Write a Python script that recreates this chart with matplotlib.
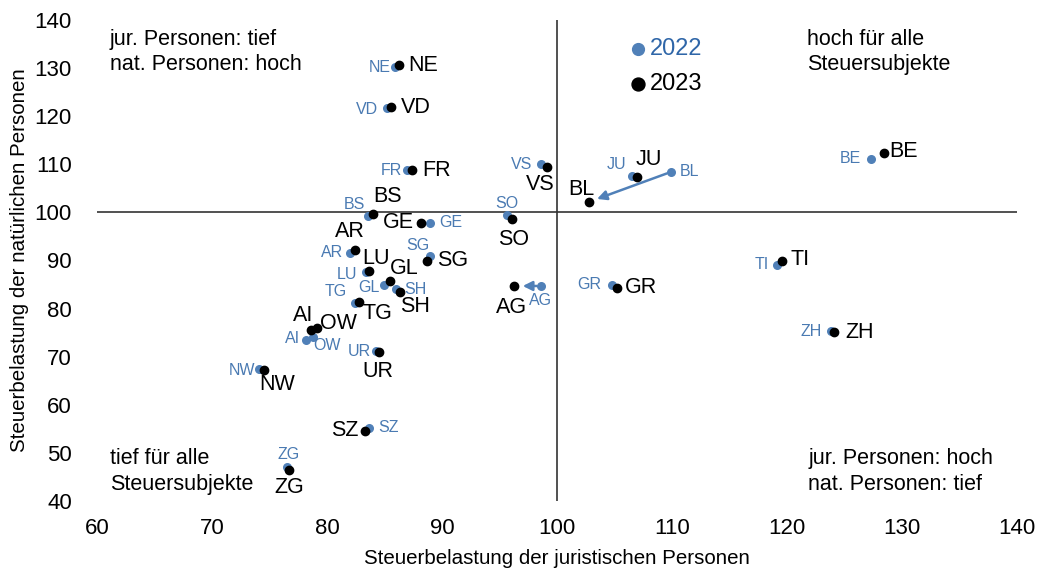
import numpy as np
import matplotlib
matplotlib.use("Agg")
import matplotlib.pyplot as plt

plt.rcParams['font.family'] = ['Liberation Sans', 'DejaVu Sans']

# =====================
# DATA
# =====================
kantone = ["NE", "VD", "FR", "BS", "GE", "AR", "LU", "SG", "GL", "SH", "TG",
           "AI", "OW", "UR", "NW", "SZ", "ZG", "VS", "JU", "BL", "SO", "AG",
           "GR", "BE", "TI", "ZH"]

x_2022 = [85.9, 85.2, 87.0, 83.6, 89.0, 82.0, 83.4, 89.0, 85.0, 86.0, 82.4,
          78.2, 78.8, 84.3, 74.1, 83.65, 76.5, 98.6, 106.5, 109.9, 95.65, 98.6,
          104.8, 127.3, 119.1, 123.8]
y_2022 = [130.2, 121.7, 108.8, 99.2, 97.8, 91.6, 87.6, 90.9, 84.9, 84.1, 81.2,
          73.5, 74.1, 71.2, 67.4, 55.2, 47.1, 110.1, 107.6, 108.4, 99.5, 84.7,
          84.9, 111.1, 89.1, 75.3]

x_2023 = [86.26, 85.6, 87.4, 84.0, 88.2, 82.4, 83.65, 88.7, 85.5, 86.35, 82.8,
          78.6, 79.1, 84.5, 74.5, 83.3, 76.7, 99.1, 106.96, 102.8, 96.1, 96.3,
          105.2, 128.4, 119.6, 124.1]
y_2023 = [130.6, 121.9, 108.8, 99.7, 97.8, 92.2, 87.8, 89.9, 85.7, 83.5, 81.4,
          75.6, 76.0, 71.0, 67.2, 54.6, 46.4, 109.4, 107.4, 102.2, 98.6, 84.7,
          84.3, 112.3, 89.9, 75.1]

# cantons with an arrow 2022 -> 2023
pfeile = ["BL", "AG"]

# label placement (pixels dx, dy, alignment)
off_2023 = {
    "NE": (9, 0, "left"), "VD": (10, 0, "left"), "FR": (10, 0, "left"),
    "BS": (15, 17, "center"), "GE": (-7, 0, "right"), "AR": (-5, 18, "center"),
    "LU": (7, 13, "center"), "GL": (14, 13, "center"), "SG": (10, 0, "left"),
    "SH": (15, -15, "center"), "TG": (18, -12, "center"), "AI": (-8, 14, "center"),
    "OW": (3, 4, "left"), "UR": (-1, -20, "center"), "NW": (13, -14, "center"),
    "SZ": (-6, 0, "right"), "ZG": (0, -17, "center"), "VS": (-6, -17, "center"),
    "BL": (-8, 12, "center"), "JU": (12, 17, "center"), "SO": (1, -20, "center"),
    "AG": (-3, -22, "center"), "GR": (8, 0, "left"), "BE": (6, 2, "left"),
    "TI": (8, 1, "left"), "ZH": (11, 0, "left"),
}
off_2022 = {
    "NE": (-4, 0, "right"), "VD": (-9, -1, "right"), "FR": (-5, 0, "right"),
    "BS": (-3, 12, "right"), "GE": (9, 0, "left"), "AR": (-7, 0, "right"),
    "LU": (-9, -2, "right"), "SG": (-13, 11, "center"), "GL": (-5, -2, "right"),
    "SH": (8, -1, "left"), "TG": (-8, 11, "right"), "AI": (-6, 1, "right"),
    "OW": (14, -9, "center"), "UR": (-6, -1, "right"), "NW": (-4, -1, "right"),
    "SZ": (9, 0, "left"), "ZG": (2, 12, "center"), "VS": (-9, -1, "right"),
    "JU": (-5, 11, "right"), "BL": (9, 0, "left"), "SO": (0, 11, "center"),
    "AG": (0, -15, "center"), "GR": (-11, 1, "right"), "BE": (-10, 0, "right"),
    "TI": (-8, 0, "right"), "ZH": (-9, 0, "right"),
}

BLAU = "#5080b8"
BLAU_TXT = "#4a7ab2"

# =====================
# PLOT
# =====================
fig = plt.figure(figsize=(10.52, 5.71), dpi=100)
ax = fig.add_axes([0.0922, 0.1226, 0.8745, 0.8424])

ax.set_xlim(60, 140)
ax.set_ylim(40, 140)
for s in ax.spines.values():
    s.set_visible(False)
ax.set_xticks(np.arange(60, 141, 10))
ax.set_yticks(np.arange(40, 141, 10))
ax.tick_params(length=0, labelsize=16)
ax.tick_params(axis="y", pad=18)
ax.tick_params(axis="x", pad=12)

ax.axhline(100, color="#333333", lw=1.2, zorder=1)
ax.axvline(100, color="#333333", lw=1.2, zorder=1)

ax.scatter(x_2022, y_2022, s=30, color=BLAU, zorder=3, label="2022")
ax.scatter(x_2023, y_2023, s=36, color="black", zorder=4, label="2023")

for i, k in enumerate(kantone):
    dx, dy, ha = off_2022[k]
    ax.annotate(k, (x_2022[i], y_2022[i]), xytext=(dx, dy),
                textcoords="offset pixels", ha=ha, va="center",
                fontsize=11.5, color=BLAU_TXT, zorder=5)
    dx, dy, ha = off_2023[k]
    ax.annotate(k, (x_2023[i], y_2023[i]), xytext=(dx, dy),
                textcoords="offset pixels", ha=ha, va="center",
                fontsize=15.5, color="black", zorder=5)

for k in pfeile:
    i = kantone.index(k)
    ax.annotate("", xy=(x_2023[i], y_2023[i]), xytext=(x_2022[i], y_2022[i]),
                arrowprops=dict(arrowstyle="-|>", color=BLAU, lw=1.8,
                                shrinkA=3, shrinkB=6, mutation_scale=14),
                zorder=2)

# corner texts
eck = dict(transform=ax.transAxes, ha="left", fontsize=15.5, linespacing=1.3)
ax.text(0.014, 0.982, "jur. Personen: tief\nnat. Personen: hoch", va="top", **eck)
ax.text(0.772, 0.982, "hoch für alle\nSteuersubjekte", va="top", **eck)
ax.text(0.014, 0.012, "tief für alle\nSteuersubjekte", va="bottom", **eck)
ax.text(0.773, 0.012, "jur. Personen: hoch\nnat. Personen: tief", va="bottom", **eck)

leg = ax.legend(loc="upper left", bbox_to_anchor=(0.568, 0.982), frameon=False,
                fontsize=17, handlelength=0.8, handletextpad=0.07,
                borderaxespad=0, labelspacing=0.55, markerscale=1.55)
leg.get_texts()[0].set_color("#2f66a8")

ax.set_xlabel("Steuerbelastung der juristischen Personen", fontsize=14.8)
ax.set_ylabel("Steuerbelastung der natürlichen Personen", fontsize=14.8)
ax.xaxis.set_label_coords(0.5, -0.1)
ax.yaxis.set_label_coords(-0.074, 0.5)

fig.savefig("out.png", dpi=100)
